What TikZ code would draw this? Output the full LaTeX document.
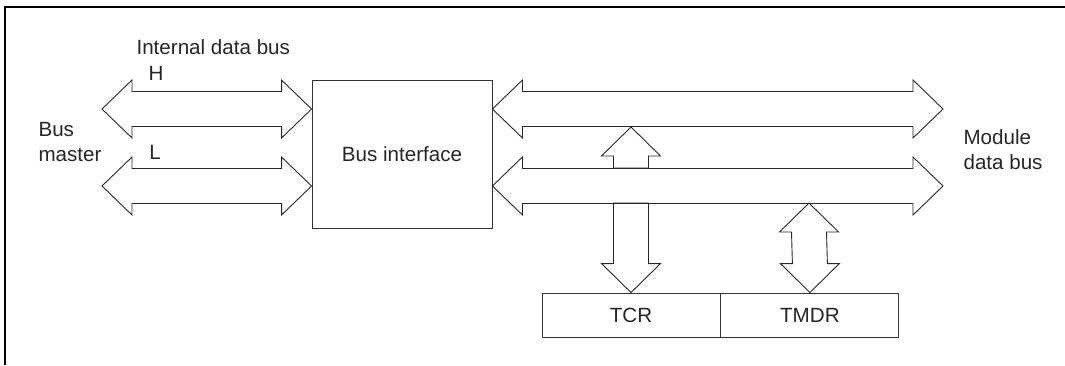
\documentclass[tikz,border=0pt]{standalone}
\usepackage{fontspec}
\setmainfont{Liberation Sans}
\usepackage{tikz}
\usetikzlibrary{calc,positioning}

% hollow bus arrows: head length 30, shaft half width 17.5, head half width 29
\newcommand{\hbus}[2]{%
  \draw[bus] (#1) -- ($(#1)+(30,29)$) -- ($(#1)+(30,17.5)$) -- ($(#2)+(-30,17.5)$)
    -- ($(#2)+(-30,29)$) -- (#2) -- ($(#2)+(-30,-29)$) -- ($(#2)+(-30,-17.5)$)
    -- ($(#1)+(30,-17.5)$) -- ($(#1)+(30,-29)$) -- cycle;}
\newcommand{\vbus}[2]{%
  \draw[bus] (#1) -- ($(#1)+(29.5,29)$) -- ($(#1)+(17.5,29)$) -- ($(#2)+(17.5,-29)$)
    -- ($(#2)+(29.5,-29)$) -- (#2) -- ($(#2)+(-29.5,-29)$) -- ($(#2)+(-17.5,-29)$)
    -- ($(#1)+(-17.5,29)$) -- ($(#1)+(-29.5,29)$) -- cycle;}
\newcommand{\upbus}[2]{%
  \draw[bus] (#1) -- ($(#1)+(29.5,29)$) -- ($(#1)+(17.5,29)$) -- ($(#2)+(17.5,0)$)
    -- ($(#2)+(-17.5,0)$) -- ($(#1)+(-17.5,29)$) -- ($(#1)+(-29.5,29)$) -- cycle;}
\newcommand{\downbus}[2]{%
  \draw[bus] ($(#1)+(17.5,0)$) -- ($(#2)+(17.5,-29)$) -- ($(#2)+(29.5,-29)$) -- (#2)
    -- ($(#2)+(-29.5,-29)$) -- ($(#2)+(-17.5,-29)$) -- ($(#1)+(-17.5,0)$) -- cycle;}

\begin{document}
\begin{tikzpicture}[
  x=1pt,y=-1pt,
  every node/.style={font=\fontsize{20.6}{25}\selectfont,text=black!85},
  bus/.style={draw=black!85,line width=0.9pt,line join=miter},
  blk/.style={rectangle,draw=black!80,line width=0.9pt,inner sep=0pt}
]
  \useasboundingbox (0,0) rectangle (1065,365);
  \draw[black,line width=1.8pt] (5,365) -- (5,7) -- (1065,7);

  % blocks
  \node[blk,minimum width=180,minimum height=148] (bif) at (402,154) {Bus interface};
  \node[blk,minimum width=178,minimum height=44] (tcr) at (631,315) {TCR};
  \node[blk,minimum width=178,minimum height=44,right=0pt of tcr] (tmdr) {TMDR};

  % labels
  \node[anchor=west,align=left] (master) at (35,142) {Bus\\master};
  \node[anchor=west] (intbus) at (133,47) {Internal data bus};
  \node (hlab) at (156,73) {H};
  \node (llab) at (155,152) {L};
  \node[anchor=west,align=left] (modbus) at (960,150) {Module\\data bus};

  % bus ends
  \coordinate (hm) at (102,109);
  \coordinate (lm) at (102,186);
  \coordinate (hb) at ($(bif.west)+(0,-45)$);
  \coordinate (lb) at ($(bif.west)+(0,32)$);
  \coordinate (hr) at ($(bif.east)+(0,-45)$);
  \coordinate (lr) at ($(bif.east)+(0,32)$);
  \coordinate (hmod) at (943,109);
  \coordinate (lmod) at (943,186);
  \coordinate (upt) at (631,127);
  \coordinate (upb) at (631,168);
  \coordinate (tcrt) at (631,203);
  \coordinate (tmdrt) at (809,203);

  % buses
  \hbus{hm}{hb}
  \hbus{lm}{lb}
  \hbus{hr}{hmod}
  \hbus{lr}{lmod}
  \upbus{upt}{upb}
  \downbus{tcrt}{tcr.north}
  \vbus{tmdrt}{tmdr.north}
\end{tikzpicture}
\end{document}
